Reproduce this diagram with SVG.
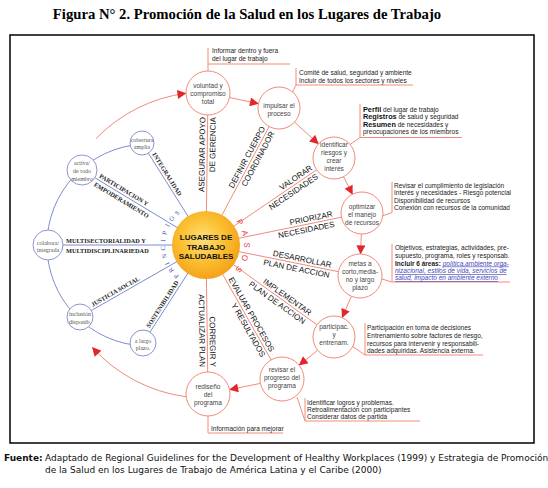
<svg xmlns="http://www.w3.org/2000/svg" width="548" height="488" viewBox="0 0 548 488">
<defs>
<radialGradient id="gold" cx="45%" cy="42%" r="60%">
<stop offset="0" stop-color="#ffe07a"/>
<stop offset="0.55" stop-color="#fbbf30"/>
<stop offset="1" stop-color="#f3a01a"/>
</radialGradient>
<marker id="ah" viewBox="0 0 10 10" refX="9.5" refY="5" markerWidth="10" markerHeight="9" markerUnits="userSpaceOnUse" orient="auto">
<path d="M0,0 L10,5 L0,10 z" fill="#e3262b"/>
</marker>
<path id="pasosArc" d="M236 221.5 A38 38 0 0 1 234.2 270.4"/>
</defs>
<style>
.title{font-family:"Liberation Serif","Times New Roman",serif;font-weight:bold;font-size:14.7px;fill:#000}
.sal{fill:none;stroke:#f28b78;stroke-width:1}
.blu{fill:none;stroke:#7f8bd0;stroke-width:1}
.step{fill:#fff;stroke:#f28b78;stroke-width:1}
.pc{fill:#fff;stroke:#8c95d4;stroke-width:1}
.st{font-family:"Liberation Sans",Arial,sans-serif;font-size:6.5px;fill:#444;text-anchor:middle}
.pt{font-family:"Liberation Serif","Times New Roman",serif;font-size:6px;fill:#555;text-anchor:middle}
.lab{font-family:"Liberation Sans",Arial,sans-serif;font-size:8px;fill:#111;text-anchor:end}
.plab{font-family:"Liberation Serif","Times New Roman",serif;font-weight:bold;font-size:6.3px;fill:#222}
.co{font-family:"Liberation Sans",Arial,sans-serif;font-size:6.5px;fill:#222}
.cb{font-weight:bold;font-size:7.3px;fill:#111}
.lnk{font-style:italic;fill:#4848b8;text-decoration:underline}
.ctr{font-family:"Liberation Sans",Arial,sans-serif;font-weight:bold;font-size:8px;fill:#111;text-anchor:middle}
.pr{font-family:"Liberation Serif","Times New Roman",serif;font-size:6.5px;fill:#3d4fb0;text-anchor:middle}
.foot{font-family:"DejaVu Sans",Verdana,sans-serif;font-size:9px;fill:#111}
</style>
<rect width="548" height="488" fill="#fff"/>
<text class="title" x="247" y="19" text-anchor="middle">Figura N° 2. Promoción de la Salud en los Lugares de Trabajo</text>
<rect x="10" y="35" width="524" height="408" fill="none" stroke="#000" stroke-width="1.5"/>

<g id="connectors">
<path class="sal" d="M95.9 138.7 A153 153 0 0 1 186 93.3" marker-end="url(#ah)"/>
<path class="sal" d="M186 396.7 A153 153 0 0 1 92.3 347.4" marker-end="url(#ah)"/>
<path class="sal" d="M229.5 97.5 L258.5 103.7" marker-end="url(#ah)"/>
<path class="sal" d="M294.5 122.1 L318.5 143.9" marker-end="url(#ah)"/>
<path class="sal" d="M343.5 176.7 L352.5 194.3" marker-end="url(#ah)"/>
<path class="sal" d="M361.3 234 L360.6 254" marker-end="url(#ah)"/>
<path class="sal" d="M351.4 296.2 L342.2 317.7" marker-end="url(#ah)"/>
<path class="sal" d="M317.7 350.2 L299.1 365.2" marker-end="url(#ah)"/>
<path class="sal" d="M260.4 383.4 L229.6 389.6" marker-end="url(#ah)"/>
<path class="sal" d="M206 245 L208 93 M206 245 L279 108 M206 245 L334 158 M206 245 L362 213 M206 245 L360 276 M206 245 L334 337 M206 245 L282 379 M206 245 L208 394"/>
<path class="sal" d="M208 71 V48 M208 64 H290"/>
<path class="sal" d="M292.5 92 L296 85 V68 M296 85 H413"/>
<path class="sal" d="M350 144.5 L360 137.5 V104 M360 137.5 H462"/>
<path class="sal" d="M382 216 L392 212.5 V182"/>
<path class="sal" d="M382 279 L392 282 V244 M392 282 H510"/>
<path class="sal" d="M352 346 L365 355 V323 M365 355 H483"/>
<path class="sal" d="M297 397 L305 421 V398 M305 421 H420"/>
<path class="sal" d="M208 416 V433 H283"/>
<path class="blu" d="M142 144.2 A101 101 0 0 0 142.9 345.9"/>
<path class="blu" d="M142 143 L206 245 M82 170 L206 245 M48 245 L206 245 M80 317 L206 245 M143 343 L206 245"/>
</g>

<g id="principles">
<g id="p-cobertura"><circle class="pc" cx="142" cy="143" r="12"/><text class="pt" x="142" y="142">cobertura</text><text class="pt" x="142" y="149">amplia</text></g>
<g id="p-activa"><circle class="pc" cx="82" cy="170" r="15"/><text class="pt" x="82" y="165">activa/</text><text class="pt" x="82" y="173">de todo</text><text class="pt" x="82" y="180.5">miembro</text></g>
<g id="p-colabora"><circle class="pc" cx="48" cy="245" r="15"/><text class="pt" x="48" y="244.5">colabora/</text><text class="pt" x="48" y="252">integrada</text></g>
<g id="p-inclusion"><circle class="pc" cx="80" cy="317" r="13"/><text class="pt" x="80" y="316">inclusión</text><text class="pt" x="80" y="323.5">disponib.</text></g>
<g id="p-largo"><circle class="pc" cx="143" cy="343" r="13"/><text class="pt" x="143" y="343">a largo</text><text class="pt" x="143" y="350">plazo.</text></g>
<text class="plab" transform="translate(150,155.7) rotate(57.9)" y="-2.5">INTEGRALIDAD</text>
<text class="plab" transform="translate(97.4,179.3) rotate(31.2)"><tspan x="0" y="-2.5">PARTICIPACION Y</tspan><tspan x="0" y="7.5">EMPODERAMIENTO</tspan></text>
<text class="plab" x="66" y="243">MULTISECTORIALIDAD Y</text>
<text class="plab" x="66" y="253">MULTIDISCIPLINARIEDAD</text>
<text class="plab" transform="translate(93.9,309.1) rotate(-29.7)" y="-2.5">JUSTICIA SOCIAL</text>
<text class="plab" transform="translate(151.7,329.5) rotate(-57.3)" y="-2.5">SOSTENIBILIDAD</text>
</g>

<g id="center">
<circle cx="206" cy="245" r="34" fill="url(#gold)"/>
<text class="ctr" x="206" y="240">LUGARES DE</text>
<text class="ctr" x="206" y="249.5">TRABAJO</text>
<text class="ctr" x="206" y="259">SALUDABLES</text>
<text font-family="Liberation Sans,Arial,sans-serif" font-size="8" fill="#e8343a" letter-spacing="6.2"><textPath href="#pasosArc">PASOS</textPath></text>
<g id="principios">
<text class="pr" transform="translate(177.8,274.7) rotate(223.5)">P</text>
<text class="pr" transform="translate(172.8,269.1) rotate(234)">R</text>
<text class="pr" transform="translate(169,262.7) rotate(244.5)">I</text>
<text class="pr" transform="translate(166.4,255.6) rotate(255)">N</text>
<text class="pr" transform="translate(165.1,248.2) rotate(265.5)">C</text>
<text class="pr" transform="translate(165.2,240.7) rotate(276)">I</text>
<text class="pr" transform="translate(166.7,233.4) rotate(286.5)">P</text>
<text class="pr" transform="translate(169.5,226.4) rotate(297)">I</text>
<text class="pr" transform="translate(173.5,220) rotate(307.5)">O</text>
<text class="pr" transform="translate(178.6,214.5) rotate(318)">S</text>
</g>
</g>

<g id="step-labels">
<text class="lab" transform="translate(207.8,117) rotate(-89.2)"><tspan x="0" y="-2.5">ASEGURAR APOYO</tspan><tspan x="0" y="8">DE GERENCIA</tspan></text>
<text class="lab" transform="translate(267.7,129.5) rotate(-61.9)"><tspan x="0" y="-2.5">DEFINIR CUERPO</tspan><tspan x="0" y="8">COORDINADOR</tspan></text>
<text class="lab" transform="translate(314.3,171.4) rotate(-34.2)"><tspan x="0" y="-2.5">VALORAR</tspan><tspan x="0" y="8">NECESIDADES</tspan></text>
<text class="lab" transform="translate(333.4,218.9) rotate(-11.6)"><tspan x="0" y="-2.5">PRIORIZAR</tspan><tspan x="0" y="8">NECESIDADES</tspan></text>
<text class="lab" transform="translate(330.5,270.1) rotate(11.4)"><tspan x="0" y="-2.5">DESARROLLAR</tspan><tspan x="0" y="8">PLAN DE ACCION</tspan></text>
<text class="lab" transform="translate(307.5,318) rotate(35.7)"><tspan x="0" y="-2.5">IMPLEMENTAR</tspan><tspan x="0" y="8">PLAN DE ACCION</tspan></text>
<text class="lab" transform="translate(267.8,353.7) rotate(60.4)"><tspan x="0" y="-2.5">EVALUAR PROCESOS</tspan><tspan x="0" y="8">Y RESULTADOS</tspan></text>
<text class="lab" transform="translate(207.7,367) rotate(89.2)"><tspan x="0" y="-2.5">CORREGIR Y</tspan><tspan x="0" y="8">ACTUALIZAR PLAN</tspan></text>
</g>

<g id="s1"><circle class="step" cx="208" cy="93" r="22"/><text class="st" x="208" y="87.5">voluntad y</text><text class="st" x="208" y="95.5">compromiso</text><text class="st" x="208" y="103.5">total</text></g>
<g id="s2"><circle class="step" cx="279" cy="108" r="21"/><text class="st" x="279" y="108">impulsar el</text><text class="st" x="279" y="116">proceso</text></g>
<g id="s3"><circle class="step" cx="334" cy="158" r="21"/><text class="st" x="334" y="147.3">identificar</text><text class="st" x="334" y="155.3">riesgos y</text><text class="st" x="334" y="163.3">crear</text><text class="st" x="334" y="171.3">interés</text></g>
<g id="s4"><circle class="step" cx="362" cy="213" r="21"/><text class="st" x="362" y="209">optimizar</text><text class="st" x="362" y="217">el manejo</text><text class="st" x="362" y="225">de recursos</text></g>
<g id="s5"><circle class="step" cx="360" cy="276" r="22"/><text class="st" x="360" y="266.3">metas a</text><text class="st" x="360" y="274.3">corto,media-</text><text class="st" x="360" y="282.3">no y largo</text><text class="st" x="360" y="290.3">plazo</text></g>
<g id="s6"><circle class="step" cx="334" cy="337" r="21"/><text class="st" x="334" y="329">participac.</text><text class="st" x="334" y="337">y</text><text class="st" x="334" y="345">entrenam.</text></g>
<g id="s7"><circle class="step" cx="282" cy="379" r="22"/><text class="st" x="282" y="372.3">revisar el</text><text class="st" x="282" y="380.3">progreso del</text><text class="st" x="282" y="388.3">programa</text></g>
<g id="s8"><circle class="step" cx="208" cy="394" r="22"/><text class="st" x="208" y="389">rediseño</text><text class="st" x="208" y="397">del</text><text class="st" x="208" y="405">programa</text></g>

<g id="callouts">
<text class="co" x="212" y="53">Informar dentro y fuera</text>
<text class="co" x="212" y="61">del lugar de trabajo</text>
<text class="co" x="299" y="75">Comité de salud, seguridad y ambiente</text>
<text class="co" x="299" y="83">Incluir de todos los sectores y niveles</text>
<text class="co" x="363" y="111.5"><tspan class="cb">Perfil</tspan> del lugar de trabajo</text>
<text class="co" x="363" y="119"><tspan class="cb">Registros</tspan> de salud y seguridad</text>
<text class="co" x="363" y="126.5"><tspan class="cb">Resumen</tspan> de necesidades y</text>
<text class="co" x="363" y="134">preocupaciones de los miembros</text>
<text class="co" x="394" y="187.5">Revisar el cumplimiento de legislación</text>
<text class="co" x="394" y="195">Interés y necesidades - Riesgo potencial</text>
<text class="co" x="394" y="202.5">Disponibilidad de recursos</text>
<text class="co" x="394" y="210">Conexión con recursos de la comunidad</text>
<text class="co" x="395" y="249.5">Objetivos, estrategias, actividades, pre-</text>
<text class="co" x="395" y="257.5">supuesto, programa, roles y responsab.</text>
<text class="co" x="395" y="265.5"><tspan font-weight="bold">Incluir 6 áreas:</tspan> <tspan class="lnk">política,ambiente orga-</tspan></text>
<text class="co" x="395" y="273"><tspan class="lnk">nizacional, estilos de vida, servicios de</tspan></text>
<text class="co" x="395" y="280"><tspan class="lnk">salud, impacto en ambiente externo</tspan></text>
<text class="co" x="367" y="330">Participación en toma de decisiones</text>
<text class="co" x="367" y="338">Entrenamiento sobre factores de riesgo,</text>
<text class="co" x="367" y="345.5">recursos para intervenir y responsabili-</text>
<text class="co" x="367" y="352.5">dades adquiridas.   Asistencia externa.</text>
<text class="co" x="307" y="404.5">Identificar logros y problemas.</text>
<text class="co" x="307" y="411.5">Retroalimentación con participantes</text>
<text class="co" x="307" y="419">Considerar datos de partida</text>
<text class="co" x="211" y="431">Información para mejorar</text>
</g>

<text class="foot" x="4" y="460.5"><tspan font-weight="bold">Fuente:</tspan></text>
<text class="foot" x="45" y="460.5">Adaptado de Regional Guidelines for the Development of Healthy Workplaces (1999) y Estrategia de Promoción</text>
<text class="foot" x="45" y="472.5">de la Salud en los Lugares de Trabajo de América Latina y el Caribe (2000)</text>
</svg>
